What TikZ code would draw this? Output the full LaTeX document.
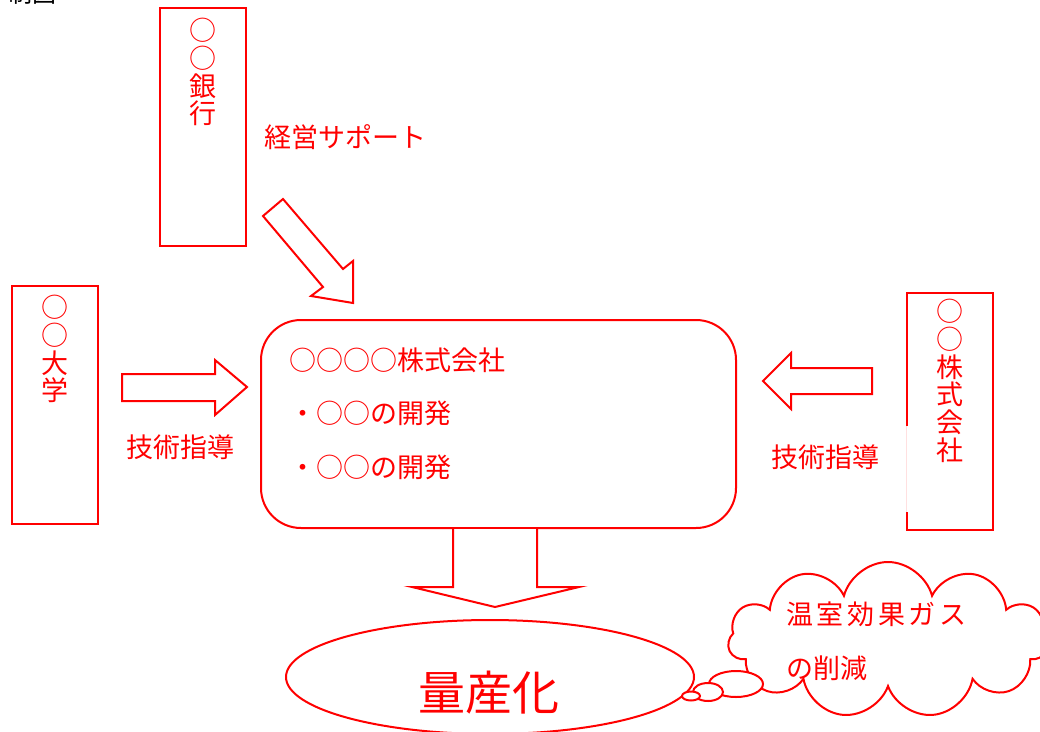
\documentclass[tikz,border=0pt]{standalone}
\usepackage{fontspec}
\newfontfamily\jp{Noto Sans CJK JP}
\usetikzlibrary{shapes.geometric,shapes.symbols}
\begin{document}
\begin{tikzpicture}[x=1pt,y=-1pt,
  redline/.style={draw=red, line width=2pt},
  jtext/.style={text=red, font=\jp\fontsize{27}{27.7}\selectfont, inner sep=0},
  vtext/.style={jtext, align=center, anchor=north},
  tallbox/.style={redline, minimum width=86, minimum height=238, inner sep=0},
  blockarrow/.style={redline, fill=white, line join=miter},
  bubble/.style={ellipse, redline, fill=white, inner sep=0}]
\useasboundingbox (0,0) rectangle (1040,731);

% title (cut off at top)
\node[anchor=base west, inner sep=0, font=\jp\fontsize{24}{24}\selectfont] (title) at (8,2) {制図};

% bank
\node[tallbox] (bank) at (203,127) {};
\node[vtext] (banktext) at (203,18) {○\\○\\銀\\行};
\node[jtext] (support) at (345,137) {経営サポート};
\draw[blockarrow] (263,216) -- (283,199) -- (343,269) -- (353,261) -- (353,303) -- (311,296) -- (323,287) -- cycle;

% university
\node[tallbox] (univ) at (55,405) {};
\node[vtext] (univtext) at (55,295) {○\\○\\大\\学};
\draw[blockarrow] (122,374) -- (215,374) -- (215,360) -- (247,387) -- (215,415) -- (215,401) -- (122,401) -- cycle;
\node[jtext] (tech1) at (180,447) {技術指導};

% central company
\node[redline, rounded corners=40pt, minimum width=475, minimum height=208, inner sep=0] (company) at (498.5,424) {};
\node[jtext, anchor=west] (c1) at (289,360) {○○○○株式会社};
\node[jtext, anchor=west] (c2) at (289,413) {・○○の開発};
\node[jtext, anchor=west] (c3) at (289,467) {・○○の開発};

% right company
\node[minimum width=86, minimum height=237, inner sep=0] (firm) at (950,411.5) {};
\draw[red!12, line width=1pt] (firm.west |- 0,426) -- (firm.west |- 0,512);
\draw[redline] (firm.west |- 0,426) -- (firm.north west) -- (firm.north east) -- (firm.south east) -- (firm.south west) -- (firm.west |- 0,512);
\node[vtext] (firmtext) at (950,299) {○\\○\\株\\式\\会\\社};
\draw[blockarrow] (872,368) -- (791,368) -- (791,353) -- (763,381) -- (791,409) -- (791,394) -- (872,394) -- cycle;
\node[jtext] (tech2) at (825,457) {技術指導};

% down arrow
\draw[blockarrow] (company.south -| 453,0) -- (453,587) -- (412,587) -- (495,607) -- (579,587) -- (537,587) -- (company.south -| 537,0);

% mass production
\node[ellipse, redline, minimum width=408, minimum height=114, inner sep=0] (mass) at (490,677) {};
\node[jtext, font=\jp\fontsize{47}{47}\selectfont] (masstext) at (489,693) {量産化};

% cloud callout
\node[cloud, cloud puffs=11, cloud ignores aspect, redline, fill=white, minimum width=320, minimum height=156, inner sep=0] (cloud) at (888,640) {};
\node[bubble, minimum width=54, minimum height=26] (b3) at (736,684) {};
\node[bubble, minimum width=30, minimum height=18] (b2) at (708,692) {};
\node[bubble, minimum width=18, minimum height=9] (b1) at (691,696) {};
\node[jtext, anchor=west] (gas1) at (786,614) {温\hspace{3.6pt}室\hspace{3.6pt}効\hspace{3.6pt}果\hspace{3.6pt}ガ\hspace{3.6pt}ス};
\node[jtext, anchor=west] (gas2) at (786,668) {の削減};
\end{tikzpicture}
\end{document}
